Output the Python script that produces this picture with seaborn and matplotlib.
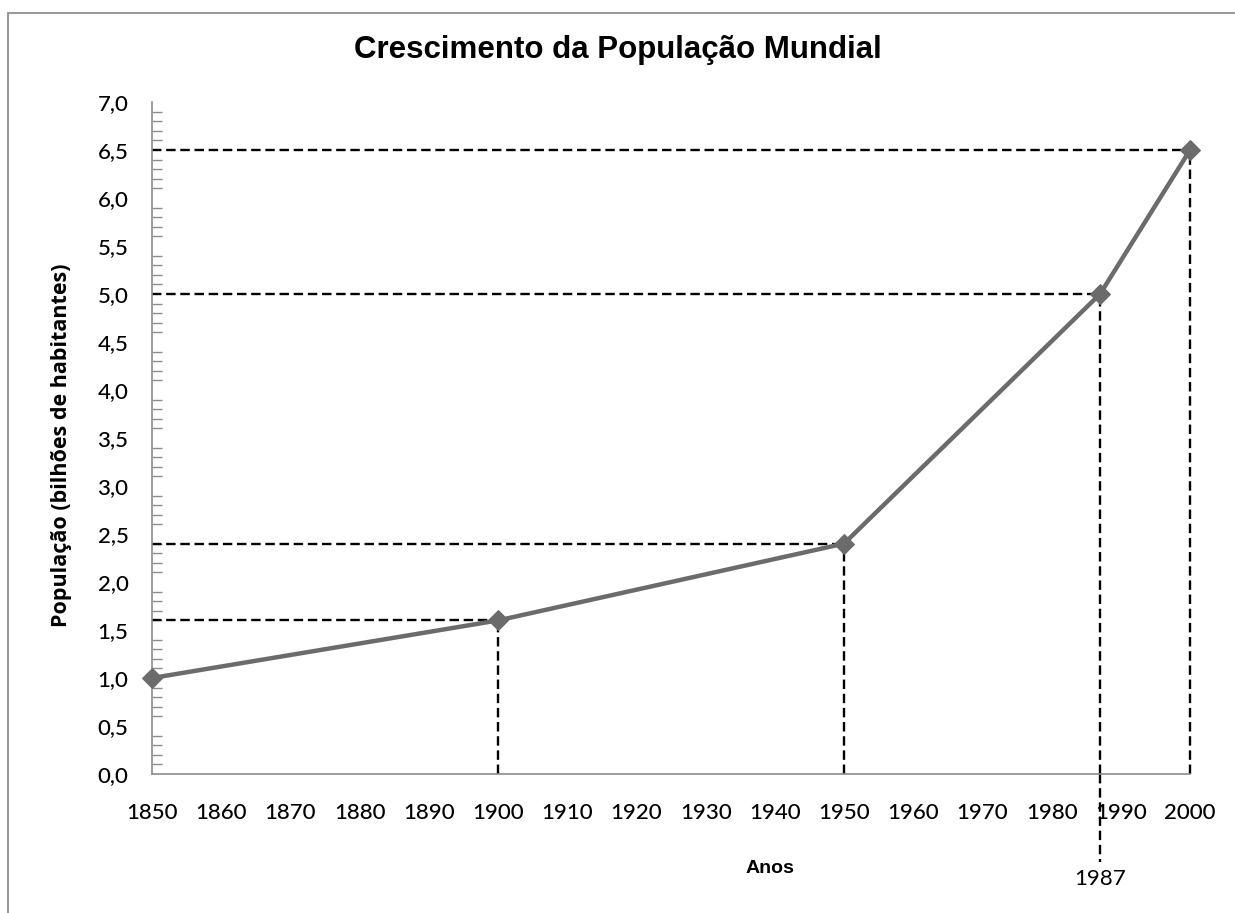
import matplotlib
matplotlib.use("Agg")
import matplotlib.pyplot as plt
import seaborn as sns
import pandas as pd
from matplotlib.ticker import MultipleLocator, FuncFormatter
from matplotlib.lines import Line2D

# data
anos = [1850, 1900, 1950, 1987, 2000]
populacao = [1.0, 1.6, 2.4, 5.0, 6.5]
destaque_ano = 1987

sns.set_style("white")
plt.rcParams["text.color"] = "black"

df = pd.DataFrame({"Anos": anos, "Populacao": populacao})

fig = plt.figure(figsize=(12.35, 9.13), dpi=100)
ax = fig.add_axes([0.1231, 0.1522, 0.8405, 0.7361])

dash = (0, (4, 2))
# reference dashed lines from the axes to every point (except the first)
for x, y in zip(anos[1:], populacao[1:]):
    ax.plot([anos[0], x], [y, y], color="black", linestyle=dash, linewidth=1.7,
            zorder=2, clip_on=False)
    ax.plot([x, x], [0, y], color="black", linestyle=dash, linewidth=1.7,
            zorder=2, clip_on=False)

# 1987 line continues below the x axis
ax.plot([destaque_ano, destaque_ano], [0, -0.92], color="black", linestyle=dash,
        linewidth=1.7, clip_on=False, zorder=2)
ax.text(destaque_ano, -1.09, str(destaque_ano), ha="center", va="center",
        fontsize=16, family="Lato", color="black")

sns.lineplot(data=df, x="Anos", y="Populacao", ax=ax, color="#6b6b6b", linewidth=3.2,
             marker="D", markersize=10, markeredgecolor="#6b6b6b", zorder=3, clip_on=False)

ax.set_xlim(1850, 2000)
ax.set_ylim(0, 7)
ax.xaxis.set_major_locator(MultipleLocator(10))
ax.yaxis.set_major_locator(MultipleLocator(0.5))
ax.yaxis.set_minor_locator(MultipleLocator(0.1))
ax.yaxis.set_major_formatter(FuncFormatter(lambda v, p: f"{v:.1f}".replace(".", ",")))

for side in ["top", "right"]:
    ax.spines[side].set_visible(False)
for side in ["left", "bottom"]:
    ax.spines[side].set_color("#8c8c8c")
    ax.spines[side].set_linewidth(1.2)

ax.tick_params(axis="both", which="major", direction="inout", length=14, width=1.2,
               color="#8c8c8c", labelsize=16, labelcolor="black")
ax.tick_params(axis="y", which="minor", direction="in", length=7, width=1.0,
               color="#8c8c8c", left=True)
ax.tick_params(axis="x", pad=14)
ax.tick_params(axis="y", pad=10)
for lbl in ax.get_xticklabels() + ax.get_yticklabels():
    lbl.set_family("Lato")
    lbl.set_fontweight("medium")

ax.set_xlabel("")
ax.set_ylabel("")

fig.text(0.5, 0.945, "Crescimento da População Mundial", ha="center", va="center",
         fontsize=22.5, fontweight="bold", family="Liberation Sans", color="black")
fig.text(0.0502, 0.5126, "População (bilhões de habitantes)", rotation=90, ha="center",
         va="center", fontsize=15.5, fontweight="bold", family="Open Sans", color="black")
fig.text(0.6235, 0.049, "Anos", ha="center", va="center", fontsize=14,
         fontweight="bold", family="Liberation Sans", color="black")

# thin grey frame (top and left edges visible in the reference)
fig.add_artist(Line2D([0.0065, 1.0], [0.9858, 0.9858], transform=fig.transFigure,
                      color="#9a9a9a", linewidth=1.5))
fig.add_artist(Line2D([0.0065, 0.0065], [0.0, 0.9858], transform=fig.transFigure,
                      color="#9a9a9a", linewidth=1.5))

fig.savefig("out.png", dpi=100, facecolor="white")
